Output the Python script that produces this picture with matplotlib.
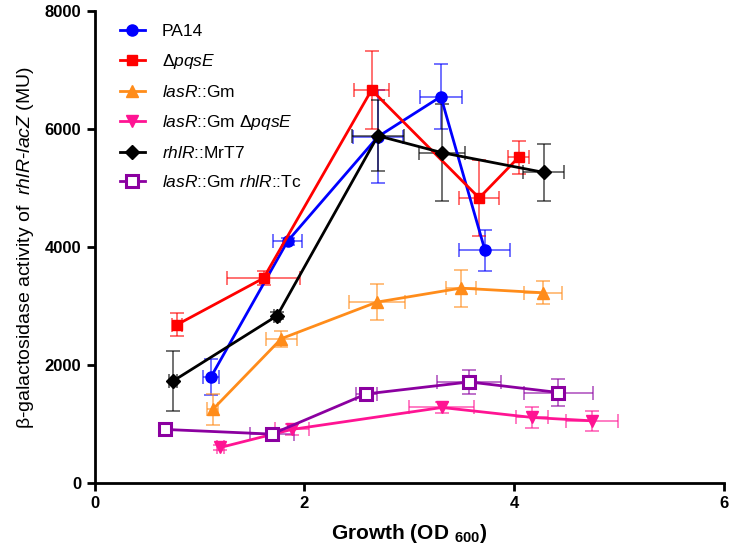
import matplotlib
matplotlib.use('Agg')
import matplotlib.pyplot as plt

plt.rcParams['font.family'] = ['Liberation Sans', 'DejaVu Sans']
plt.rcParams['mathtext.fontset'] = 'custom'
plt.rcParams['mathtext.rm'] = 'Liberation Sans'
plt.rcParams['mathtext.it'] = 'Liberation Sans:italic'
plt.rcParams['mathtext.bf'] = 'Liberation Sans:bold'

# strain labels
labels = ['PA14', r'Δ$\it{pqsE}$', r'$\it{lasR}$::Gm',
          r'$\it{lasR}$::Gm Δ$\it{pqsE}$', r'$\it{rhlR}$::MrT7',
          r'$\it{lasR}$::Gm $\it{rhlR}$::Tc']

# PA14
pa14_x = [1.11, 1.84, 2.70, 3.30, 3.72]
pa14_y = [1800, 4100, 5870, 6550, 3946]
pa14_xerr = [0.08, 0.14, 0.235, 0.2, 0.243]
pa14_yerr = [310, 60, 790, 550, 345]

# delta pqsE
pqse_x = [0.786, 1.61, 2.64, 3.665, 4.04]
pqse_y = [2684, 3472, 6663, 4832, 5519]
pqse_xerr = [0.05, 0.35, 0.17, 0.19, 0.1]
pqse_yerr = [190, 120, 665, 650, 275]

# lasR::Gm
lasr_x = [1.126, 1.78, 2.69, 3.49, 4.27]
lasr_y = [1246, 2447, 3066, 3303, 3225]
lasr_xerr = [0.05, 0.15, 0.27, 0.143, 0.18]
lasr_yerr = [270, 135, 305, 313, 195]

# lasR::Gm delta pqsE
lasr_pqse_x = [1.20, 1.88, 3.31, 4.17, 4.74]
lasr_pqse_y = [603, 908, 1280, 1111, 1054]
lasr_pqse_xerr = [0.03, 0.16, 0.31, 0.15, 0.25]
lasr_pqse_yerr = [40, 100, 100, 180, 165]

# rhlR::MrT7
rhlr_x = [0.745, 1.74, 2.70, 3.31, 4.28]
rhlr_y = [1725, 2836, 5885, 5600, 5265]
rhlr_xerr = [0.04, 0.03, 0.25, 0.22, 0.195]
rhlr_yerr = [510, 60, 600, 825, 480]

# lasR::Gm rhlR::Tc
lasr_rhlr_x = [0.671, 1.69, 2.59, 3.57, 4.42]
lasr_rhlr_y = [908, 829, 1510, 1713, 1534]
lasr_rhlr_xerr = [0.03, 0.21, 0.1, 0.305, 0.33]
lasr_rhlr_yerr = [40, 60, 60, 210, 230]

series = [
    (pa14_x, pa14_y, pa14_xerr, pa14_yerr, '#0000FF', 'o', 8, True),
    (pqse_x, pqse_y, pqse_xerr, pqse_yerr, '#FF0000', 's', 7.5, True),
    (lasr_x, lasr_y, lasr_xerr, lasr_yerr, '#FF8C1A', '^', 8, True),
    (lasr_pqse_x, lasr_pqse_y, lasr_pqse_xerr, lasr_pqse_yerr, '#FF1493', 'v', 8, True),
    (rhlr_x, rhlr_y, rhlr_xerr, rhlr_yerr, '#000000', 'D', 7, True),
    (lasr_rhlr_x, lasr_rhlr_y, lasr_rhlr_xerr, lasr_rhlr_yerr, '#8B00A0', 's', 8, False),
]

fig = plt.figure(figsize=(7.33, 5.52), dpi=100)
ax = fig.add_axes([0.129, 0.125, 0.859, 0.855])

for (x, y, xe, ye, c, m, ms, filled), lab in zip(series, labels):
    ax.errorbar(x, y, xerr=xe, yerr=ye, fmt='none', ecolor=c, elinewidth=1.2,
                capsize=5, capthick=1.2, alpha=0.65, zorder=2)
    ax.plot(x, y, color=c, marker=m, markersize=ms, linewidth=2,
            markerfacecolor=c if filled else 'white',
            markeredgecolor=c, markeredgewidth=2.2 if not filled else 1,
            label=lab, zorder=3)

ax.set_xlim(0, 6)
ax.set_ylim(0, 8000)
ax.set_xticks([0, 2, 4, 6])
ax.set_yticks([0, 2000, 4000, 6000, 8000])

for s in ['top', 'right']:
    ax.spines[s].set_visible(False)
for s in ['left', 'bottom']:
    ax.spines[s].set_linewidth(2)
ax.tick_params(width=2, length=6, labelsize=12)
for t in ax.get_xticklabels() + ax.get_yticklabels():
    t.set_fontweight('bold')

ax.set_xlabel(r'Growth (OD $_{\mathbf{600}}$)', fontsize=15,
              fontweight='bold', labelpad=8)
ax.set_ylabel(r'β-galactosidase activity of  $\it{rhlR}$-$\it{lacZ}$ (MU)',
              fontsize=14, labelpad=6)

ax.legend(loc='upper left', bbox_to_anchor=(0.016, 1.006), frameon=False,
          fontsize=12.5, handlelength=1.4, handletextpad=1.0,
          labelspacing=0.75)

fig.savefig('out.png', dpi=100)
